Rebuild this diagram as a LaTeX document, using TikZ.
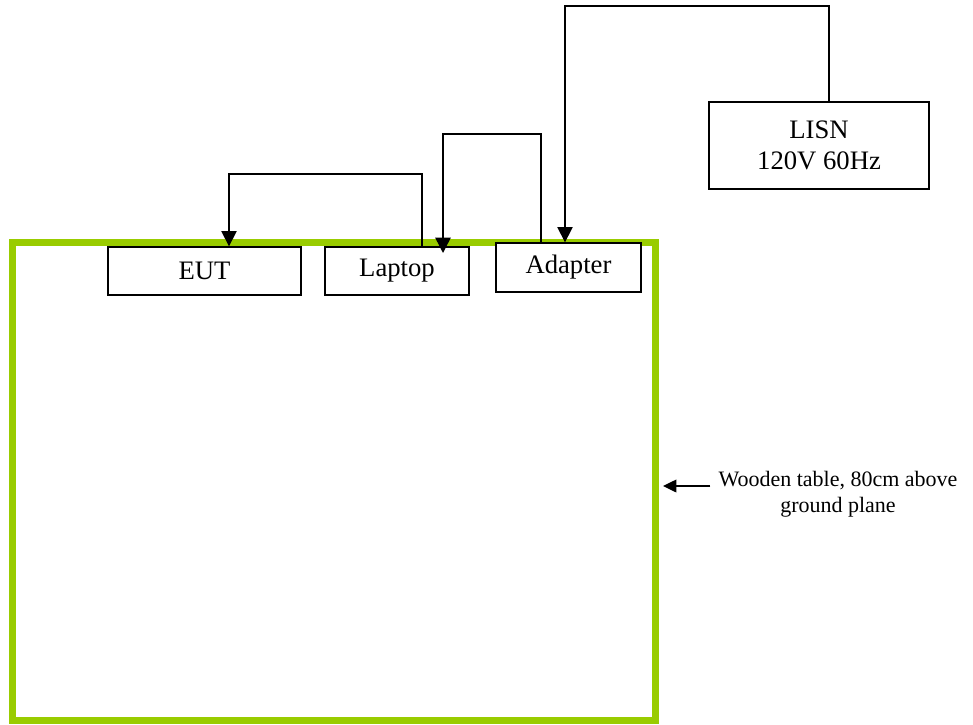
\documentclass[tikz,border=0pt]{standalone}
\usepackage{fontspec}
\setmainfont{Liberation Serif}
\usetikzlibrary{arrows.meta}
\definecolor{tablegreen}{RGB}{153, 204, 0}

\begin{document}
\begin{tikzpicture}[x=0.75pt, y=-0.75pt,
    unitbox/.style={draw, line width=1pt, fill=white, inner sep=0pt,
        minimum height=36pt, align=center, font=\fontsize{20}{23}\selectfont},
    cable/.style={line width=1.1pt, -{Triangle[length=11.5pt, width=11.5pt]}}]
    \useasboundingbox (0,0) rectangle (973,724);

    % wooden table
    \draw[tablegreen, line width=5.25pt] (12,242) rectangle (655,720);

    \node[unitbox, minimum width=144.75pt] (eut) at (204.5,271) {EUT};
    \node[unitbox, minimum width=108pt] (laptop) at (397,271) {Laptop};
    \node[unitbox, minimum width=108.75pt, minimum height=36.75pt] (adapter) at (568.5,267.5) {Adapter};
    \node[unitbox, minimum width=165pt, minimum height=65.25pt] (lisn) at (819,145.5) {LISN\\120V 60Hz};

    % cables
    \draw[cable] (422,0 |- laptop.north) -- (422,174) -| (229,0 |- eut.north);
    \draw[cable, shorten >=-5pt] (541,0 |- adapter.north) -- (541,134) -| (443,0 |- laptop.north);
    \draw[cable] (829,0 |- lisn.north) -- (829,6) -| (565,0 |- adapter.north);

    \node[inner sep=0pt, align=center, font=\fontsize{16.5}{19.5}\selectfont] (tablenote) at (838,494)
        {Wooden table, 80cm above\\ground plane};
    \coordinate (tableedge) at (663,486);
    \draw[line width=1.1pt, -{Triangle[length=10pt, width=9.5pt]}, shorten <=6pt] (tablenote.west |- tableedge) -- (tableedge);
\end{tikzpicture}
\end{document}
